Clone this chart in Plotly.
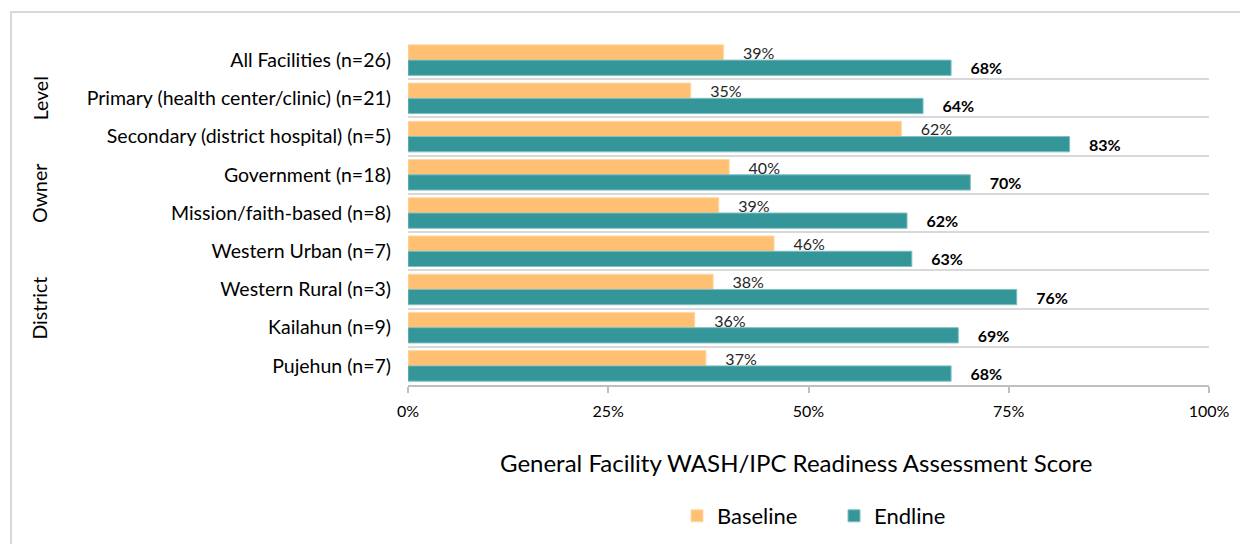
import plotly.graph_objects as go

categories = [
    "All Facilities (n=26)",
    "Primary (health center/clinic) (n=21)",
    "Secondary (district hospital) (n=5)",
    "Government (n=18)",
    "Mission/faith-based (n=8)",
    "Western Urban (n=7)",
    "Western Rural (n=3)",
    "Kailahun (n=9)",
    "Pujehun (n=7)",
]
baseline = [39.4, 35.3, 61.6, 40.1, 38.8, 45.7, 38.1, 35.8, 37.2]
endline = [67.8, 64.3, 82.6, 70.2, 62.3, 62.9, 76.0, 68.7, 67.8]
groups = ["Level", "Owner", "District"]
group_pos = [1, 3.5, 6.5]
x_ticks = [0, 25, 50, 75, 100]
x_ticktext = ["0%", "25%", "50%", "75%", "100%"]

FONT = "Lato"
ORANGE = "#FFC074"
TEAL = "#349699"
OFF = 8  # page body margin
W, H = 1248 - OFF, 544 - OFF
L, R, T = 408 - OFF, 39, 41 - OFF
pw, ph = 801, 344
B = H - T - ph


def px_x(page_x):
    return (page_x - OFF - L) / pw


def px_y(page_y):
    return (T + ph - (page_y - OFF)) / ph


pad = "\u00a0" * 4

fig = go.Figure()
fig.add_trace(go.Bar(
    name="Baseline", y=categories, x=baseline, orientation="h",
    marker=dict(color=ORANGE, line=dict(color="#FFD9A8", width=1)),
    text=[pad + f"{v:.0f}%" for v in baseline], textposition="outside",
    textfont=dict(family=FONT, size=16, color="#262626"),
    constraintext="none", cliponaxis=False, hoverinfo="skip",
))
fig.add_trace(go.Bar(
    name="Endline", y=categories, x=endline, orientation="h",
    marker=dict(color=TEAL, line=dict(color="#7FC0C2", width=1)),
    text=[pad + f"<b>{v:.0f}%</b>" for v in endline], textposition="outside",
    textfont=dict(family=FONT, size=16, color="#000000"),
    constraintext="none", cliponaxis=False, hoverinfo="skip",
))

for g, p in zip(groups, group_pos):
    fig.add_annotation(
        text=g, x=px_x(40), xref="paper", y=p, yref="y",
        textangle=-90, showarrow=False, xanchor="center", yanchor="middle",
        font=dict(family=FONT, size=19.5, color="#000000"),
    )

fig.add_annotation(
    text="General Facility WASH/IPC Readiness Assessment Score",
    x=px_x(796), xref="paper", y=px_y(462), yref="paper",
    showarrow=False, xanchor="center", yanchor="middle",
    font=dict(family=FONT, size=24, color="#000000"),
)

# outer chart border
fig.add_shape(
    type="rect", xref="paper", yref="paper",
    x0=px_x(11), x1=1.2, y0=-0.6, y1=px_y(12),
    line=dict(color="#D9D9D9", width=2), layer="below",
)

fig.update_layout(
    width=W, height=H,
    margin=dict(l=L, r=R, t=T, b=B, autoexpand=False),
    paper_bgcolor="white", plot_bgcolor="white",
    barmode="group", bargap=0.2, bargroupgap=0,
    font=dict(family=FONT, size=16, color="#000000"),
    showlegend=True,
    legend=dict(
        orientation="h", x=px_x(677), xanchor="left",
        y=px_y(516), yanchor="middle",
        font=dict(family=FONT, size=22, color="#000000"),
        entrywidth=112, traceorder="normal",
    ),
    xaxis=dict(
        range=[0, 100], tickvals=x_ticks, ticktext=x_ticktext,
        showgrid=False, zeroline=False, showline=True,
        linecolor="#BFBFBF", linewidth=2,
        ticks="outside", ticklen=6, tickcolor="#BFBFBF", tickwidth=2,
        tickfont=dict(family=FONT, size=16, color="#000000"),
        ticklabelstandoff=5, fixedrange=True,
    ),
    yaxis=dict(
        type="category", categoryorder="array", categoryarray=categories,
        range=[8.5, -0.5], tickson="boundaries",
        showgrid=True, gridcolor="#D9D9D9", gridwidth=2,
        ticks="", showline=False, zeroline=False,
        tickfont=dict(family=FONT, size=19.5, color="#000000"),
        ticklabelstandoff=16, fixedrange=True,
    ),
)

fig.write_html("out.html")
